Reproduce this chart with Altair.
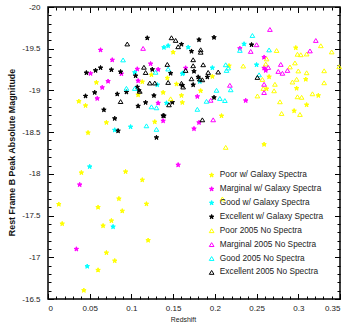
import altair as alt
import pandas as pd

# Redshift / rest-frame B peak absolute magnitude, one list of (z, M_B) pairs per sample
poor_gal = [
    (0.058, -19.095), (0.037, -18.869), (0.045, -18.818), (0.070, -18.615), (0.048, -18.493),
    (0.108, -18.947), (0.113, -19.103), (0.124, -19.187), (0.150, -19.457), (0.143, -19.148),
    (0.154, -19.076), (0.138, -18.975), (0.160, -18.939), (0.161, -18.855), (0.183, -18.995),
    (0.128, -18.623), (0.197, -19.167), (0.217, -19.295), (0.208, -18.695), (0.297, -19.511),
    (0.265, -19.163), (0.309, -19.133), (0.298, -19.025), (0.324, -18.939), (0.310, -18.827),
    (0.295, -18.755), (0.259, -18.353), (0.262, -19.019), (0.040, -18.014), (0.093, -18.026),
    (0.113, -17.927), (0.013, -17.635), (0.085, -17.702), (0.118, -17.639), (0.060, -17.599),
    (0.089, -17.555), (0.076, -17.438), (0.066, -17.378), (0.017, -17.402), (0.120, -17.203),
    (0.070, -17.054), (0.080, -16.958), (0.060, -16.846), (0.043, -16.603),
]
marginal_gal = [
    (0.063, -19.484), (0.077, -19.365), (0.051, -19.203), (0.088, -19.199), (0.107, -19.256),
    (0.108, -19.115), (0.072, -19.109), (0.065, -19.035), (0.059, -18.903), (0.123, -19.319),
    (0.132, -19.251), (0.165, -19.268), (0.132, -18.848), (0.138, -18.635), (0.179, -18.927),
    (0.181, -18.615), (0.175, -18.541), (0.237, -18.878), (0.230, -19.503), (0.259, -19.397),
    (0.259, -19.268), (0.261, -19.239), (0.156, -18.107), (0.038, -17.870), (0.034, -17.098),
]
good_gal = [
    (0.104, -19.215), (0.139, -19.515), (0.168, -19.517), (0.099, -18.563), (0.197, -19.271),
    (0.182, -19.107), (0.235, -19.556), (0.250, -19.307), (0.050, -18.086), (0.078, -17.366),
    (0.047, -16.891), (0.161, -19.199), (0.080, -18.525), (0.131, -19.067), (0.142, -18.848),
    (0.144, -19.535), (0.162, -19.208),
]
excellent_gal = [
    (0.119, -19.628), (0.063, -19.271), (0.057, -19.239), (0.046, -19.211), (0.076, -19.247),
    (0.087, -19.223), (0.105, -19.175), (0.107, -19.040), (0.109, -18.999), (0.056, -18.975),
    (0.045, -18.932), (0.083, -18.956), (0.094, -18.980), (0.067, -18.767), (0.080, -18.663),
    (0.084, -18.515), (0.108, -18.812), (0.117, -18.855), (0.127, -18.938), (0.138, -18.697),
    (0.130, -18.435), (0.125, -19.251), (0.160, -19.553), (0.181, -19.607), (0.199, -19.635),
    (0.172, -19.469), (0.175, -19.229), (0.147, -19.205), (0.191, -19.160), (0.174, -19.067),
    (0.161, -19.061), (0.199, -18.915), (0.149, -18.857), (0.139, -18.695), (0.244, -19.547),
    (0.180, -19.160),
]
poor_2005 = [
    (0.147, -18.899), (0.213, -18.317), (0.209, -17.699), (0.274, -19.478), (0.327, -19.535),
    (0.340, -19.461), (0.299, -19.433), (0.303, -19.427), (0.310, -19.436), (0.262, -19.377),
    (0.234, -19.292), (0.261, -19.316), (0.296, -19.329), (0.290, -19.281), (0.300, -19.233),
    (0.310, -19.211), (0.331, -19.235), (0.349, -19.283), (0.257, -19.131), (0.298, -19.133),
    (0.293, -19.100), (0.272, -19.073), (0.331, -19.091), (0.258, -19.023), (0.271, -18.995),
    (0.251, -18.933), (0.299, -18.923), (0.304, -18.917), (0.317, -18.959), (0.278, -18.863),
    (0.280, -18.723), (0.302, -18.711),
]
marginal_2005 = [
    (0.114, -19.503), (0.218, -19.061), (0.195, -18.881), (0.198, -18.647), (0.266, -19.730),
    (0.250, -19.547), (0.243, -19.467), (0.321, -19.598), (0.314, -19.473), (0.279, -19.311),
    (0.264, -19.275), (0.276, -19.227), (0.281, -19.205), (0.287, -19.239), (0.259, -19.073),
    (0.259, -18.974),
]
good_2005 = [
    (0.090, -19.365), (0.094, -19.025), (0.104, -19.023), (0.129, -19.217),
    (0.144, -19.256), (0.213, -19.307), (0.216, -19.268), (0.214, -19.239),
    (0.202, -19.001), (0.219, -19.007), (0.190, -18.869), (0.206, -18.903), (0.212, -18.878),
    (0.124, -18.803), (0.130, -18.791), (0.118, -18.575), (0.130, -18.533), (0.179, -18.773),
    (0.245, -19.658), (0.230, -19.479), (0.253, -19.187), (0.265, -19.485),
]
excellent_2005 = [
    (0.095, -19.556), (0.087, -18.866), (0.115, -19.277), (0.117, -19.214), (0.110, -18.989),
    (0.122, -19.088), (0.128, -19.088), (0.148, -19.631), (0.153, -19.599), (0.156, -19.523),
    (0.183, -19.487), (0.183, -19.457), (0.174, -19.367), (0.186, -19.307), (0.174, -19.295),
    (0.165, -19.239), (0.192, -19.215), (0.204, -19.220), (0.172, -19.139), (0.182, -19.136),
    (0.185, -19.127), (0.144, -19.095), (0.160, -19.085), (0.162, -19.040), (0.145, -18.827),
    (0.185, -18.647), (0.251, -19.155), (0.143, -19.311),
]

series_names = [
    "Poor w/ Galaxy Spectra", "Marginal w/ Galaxy Spectra",
    "Good w/ Galaxy Spectra", "Excellent w/ Galaxy Spectra",
    "Poor 2005 No Spectra", "Marginal 2005 No Spectra",
    "Good 2005 No Spectra", "Excellent 2005 No Spectra",
]
series_points = [poor_gal, marginal_gal, good_gal, excellent_gal,
                 poor_2005, marginal_2005, good_2005, excellent_2005]

x_major = [0, 0.05, 0.1, 0.15, 0.2, 0.25, 0.3, 0.35]
x_minor = [i / 100 for i in range(36)]
y_major = [-20, -19.5, -19, -18.5, -18, -17.5, -17, -16.5]
y_minor = [round(-20 + i / 10, 1) for i in range(36)]

rows = [{"z": z, "m": m, "sample": name}
        for name, pts in zip(series_names, series_points) for z, m in pts]
df = pd.DataFrame(rows)

# filled five-point star and open triangle, in symbol unit coordinates
STAR = ("M0,-1L0.235,-0.324L0.951,-0.309L0.38,0.124L0.588,0.809L0,0.4"
        "L-0.588,0.809L-0.38,0.124L-0.951,-0.309L-0.235,-0.324Z")
TRI = "M0,-0.85L1,0.8L-1,0.8Z"
line_colors = ["#ffff00", "#ff00ff", "#00ffff", "#000000"] * 2
fill_colors = line_colors[:4] + ["transparent"] * 4
shapes = [STAR] * 4 + [TRI] * 4

W = H = 292
FONT = "Liberation Sans"

xs = alt.Scale(domain=[0, 0.35], nice=False, zero=False)
ys = alt.Scale(domain=[-20, -16.5], reverse=True, nice=False, zero=False)

x_tick_len = {"condition": {"test": "abs(datum.value*20 - round(datum.value*20)) < 0.001",
                            "value": 5.5}, "value": 3}
y_tick_len = {"condition": {"test": "abs(datum.value*2 - round(datum.value*2)) < 0.001",
                            "value": 5.5}, "value": 3}

legend = alt.Legend(
    title=None, orient="none", legendX=159.5, legendY=164, padding=0,
    symbolSize=22, symbolStrokeWidth=1, labelFont=FONT, labelFontSize=8.3,
    labelColor="#222222", labelOffset=4, rowPadding=3.9,
)

points = alt.Chart(df).mark_point(size=22, strokeWidth=1, opacity=1).encode(
    x=alt.X("z:Q", scale=xs, axis=alt.Axis(
        values=x_major, ticks=False, domain=False, grid=False,
        labelExpr="toString(datum.value)", labelPadding=5, labelFont=FONT,
        labelFontSize=8, labelColor="#222222",
        title="Redshift", titleFont=FONT, titleFontSize=6.9, titleFontWeight="normal",
        titleColor="#222222", titleX=135, titleY=22.3, titleAlign="center",
        titleBaseline="alphabetic")),
    y=alt.Y("m:Q", scale=ys, axis=alt.Axis(
        values=y_major, ticks=False, domain=False, grid=False,
        labelExpr="toString(datum.value)", labelPadding=8, labelFont=FONT,
        labelFontSize=8, labelColor="#222222",
        title="Rest Frame B Peak Absolute Magnitude", titleFont=FONT, titleFontSize=8.9,
        titleFontWeight="bold", titleColor="#111111", titleAngle=270,
        titleX=-36.5, titleY=145, titleAlign="center", titleBaseline="middle")),
    fill=alt.Fill("sample:N", scale=alt.Scale(domain=series_names, range=fill_colors), legend=legend),
    stroke=alt.Stroke("sample:N", scale=alt.Scale(domain=series_names, range=line_colors), legend=legend),
    shape=alt.Shape("sample:N", scale=alt.Scale(domain=series_names, range=shapes), legend=legend),
)

def tick_axis(orient, values, length, offset):
    return alt.Axis(orient=orient, offset=offset, values=values, labels=False,
                    domain=False, grid=False, title=None, ticks=True,
                    tickSize=length, tickColor="#000000", tickWidth=1)

# inward ticks along the bottom and left edges
ticks_low = alt.Chart(df).mark_point(opacity=0).encode(
    x=alt.X("z:Q", scale=xs, axis=tick_axis("top", x_minor, x_tick_len, -H)),
    y=alt.Y("m:Q", scale=ys, axis=tick_axis("right", y_minor, y_tick_len, -W)),
)
# inward ticks along the top and right edges
ticks_high = alt.Chart(df).mark_point(opacity=0).encode(
    x=alt.X("z:Q", scale=xs, axis=tick_axis("bottom", x_minor, x_tick_len, -H)),
    y=alt.Y("m:Q", scale=ys, axis=tick_axis("left", y_minor, y_tick_len, -W)),
)

chart = alt.layer(points, ticks_low, ticks_high).resolve_axis(
    x="independent", y="independent"
).properties(
    width=W, height=H, autosize="none",
    padding={"left": 48, "top": 7, "right": 7, "bottom": 25},
    background="white",
).configure_view(stroke="#000000", strokeWidth=1.5)

chart.save("out.html", embed_options={"renderer": "svg", "actions": False})
